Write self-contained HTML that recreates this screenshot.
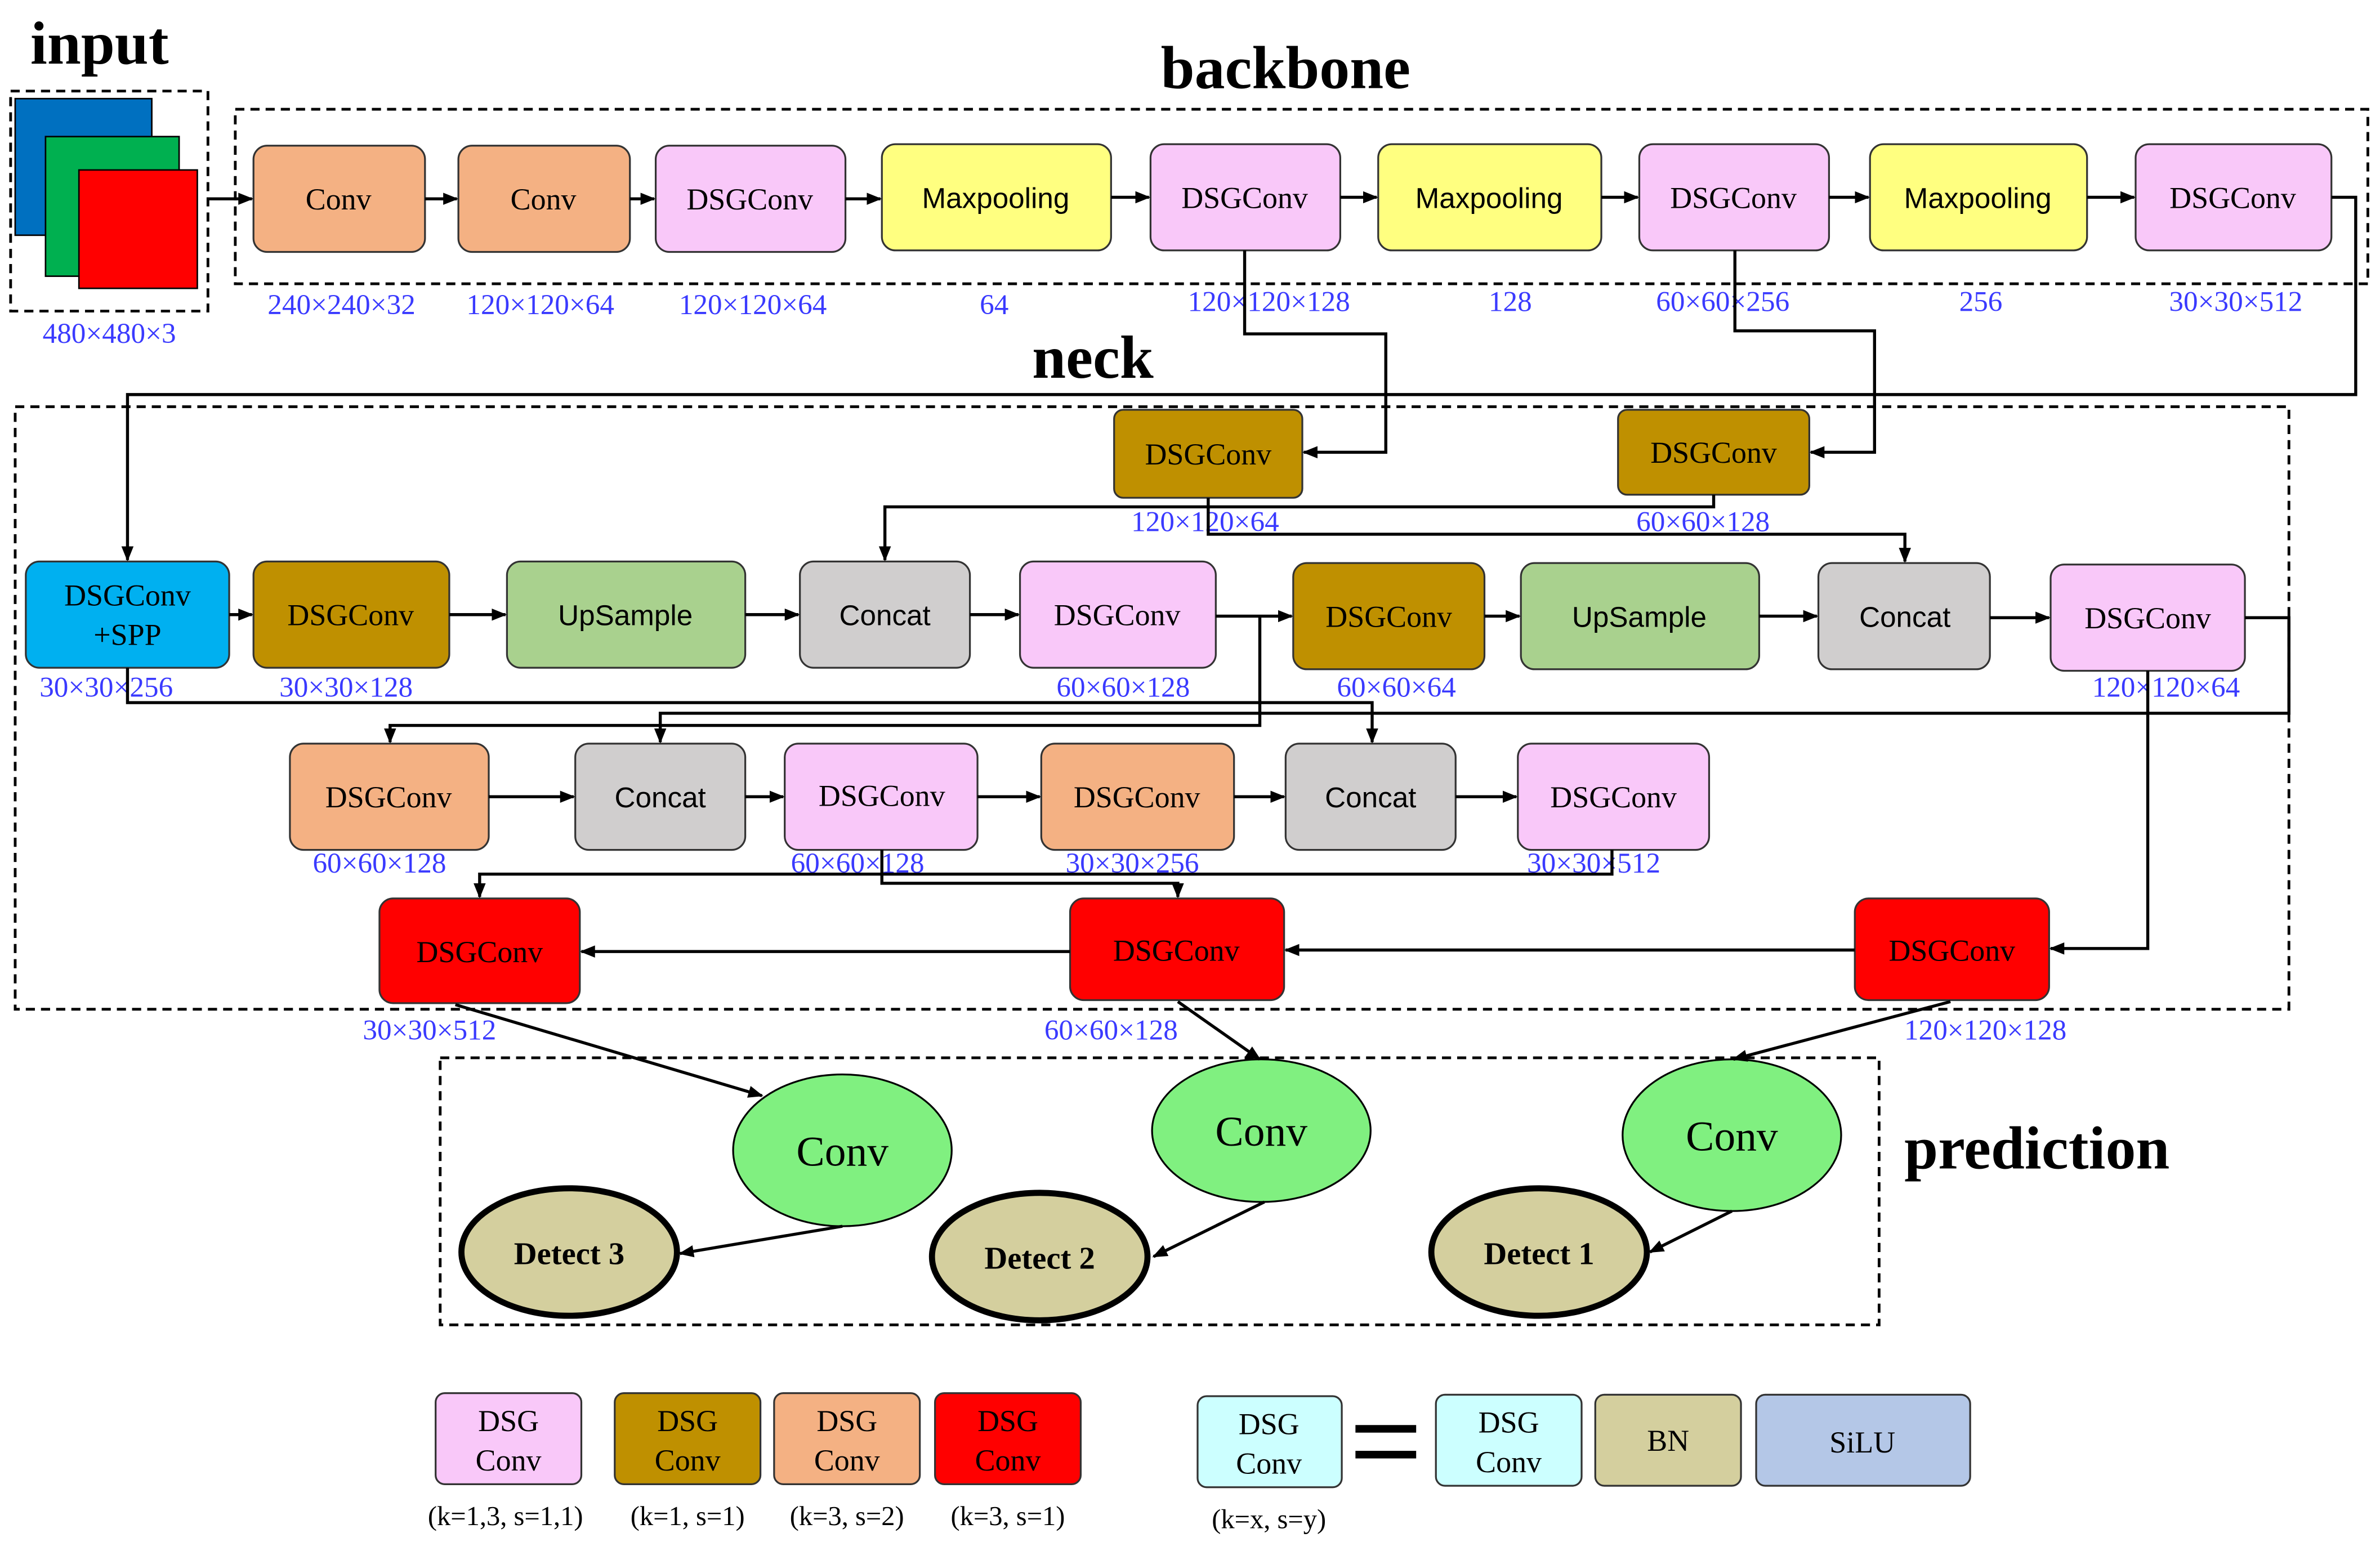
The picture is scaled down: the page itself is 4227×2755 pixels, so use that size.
<!DOCTYPE html>
<html><head><meta charset="utf-8"><style>
html,body{margin:0;padding:0;background:#fff;}
svg{display:block;}
.s{font-family:"Liberation Serif",serif;}
.a{font-family:"Liberation Sans",sans-serif;}
.d{font-family:"Liberation Serif",serif;fill:#3a3aff;font-size:19px;text-anchor:middle;}
.b{stroke:#333;stroke-width:1.2;}
.l{stroke:#000;stroke-width:2;fill:none;marker-end:url(#ar);}
.n{stroke:#000;stroke-width:2;fill:none;}
</style></head><body>
<svg width="4227" height="2755" viewBox="0 0 1568 1022" preserveAspectRatio="none" xmlns="http://www.w3.org/2000/svg">
<defs><marker id="ar" markerWidth="10" markerHeight="10" refX="9" refY="5" orient="auto" markerUnits="userSpaceOnUse"><path d="M0,1 L10,5 L0,9 z" fill="#000"/></marker></defs>
<rect width="1568" height="1022" fill="#fff"/>
<!-- titles -->
<text x="20" y="42" class="s" font-size="40" font-weight="bold">input</text>
<text x="847" y="58" class="s" font-size="40" font-weight="bold" text-anchor="middle">backbone</text>
<text x="720" y="249" class="s" font-size="40" font-weight="bold" text-anchor="middle">neck</text>
<text x="1342" y="770" class="s" font-size="40" font-weight="bold" text-anchor="middle">prediction</text>
<!-- dashed frames -->
<g fill="none" stroke="#000" stroke-width="1.8" stroke-dasharray="6,4">
<rect x="7" y="60" width="130" height="145"/>
<rect x="155" y="72" width="1405" height="115"/>
<rect x="10" y="268" width="1498" height="397"/>
<rect x="290" y="697" width="948" height="176"/>
</g>
<!-- input -->
<rect x="10" y="65" width="90" height="90" fill="#0070c0" stroke="#000"/>
<rect x="30" y="90" width="88" height="92" fill="#00b050" stroke="#000"/>
<rect x="52" y="112" width="78" height="78" fill="#ff0000" stroke="#000"/>
<text x="72" y="226" class="d">480×480×3</text>
<!-- backbone boxes -->
<g class="b">
<rect x="167" y="96" width="113" height="70" rx="9" fill="#f4b183"/>
<rect x="302" y="96" width="113" height="70" rx="9" fill="#f4b183"/>
<rect x="432" y="96" width="125" height="70" rx="9" fill="#f9c8f9"/>
<rect x="581" y="95" width="151" height="70" rx="9" fill="#ffff80"/>
<rect x="758" y="95" width="125" height="70" rx="9" fill="#f9c8f9"/>
<rect x="908" y="95" width="147" height="70" rx="9" fill="#ffff80"/>
<rect x="1080" y="95" width="125" height="70" rx="9" fill="#f9c8f9"/>
<rect x="1232" y="95" width="143" height="70" rx="9" fill="#ffff80"/>
<rect x="1407" y="95" width="129" height="70" rx="9" fill="#f9c8f9"/>
</g>
<g class="s" font-size="20" text-anchor="middle">
<text x="223" y="138">Conv</text><text x="358" y="138">Conv</text><text x="494" y="138">DSGConv</text>
<text x="820" y="137">DSGConv</text><text x="1142" y="137">DSGConv</text><text x="1471" y="137">DSGConv</text>
</g>
<g class="a" font-size="19" text-anchor="middle">
<text x="656" y="137">Maxpooling</text><text x="981" y="137">Maxpooling</text><text x="1303" y="137">Maxpooling</text>
</g>
<g>
<text x="225" y="207" class="d">240×240×32</text><text x="356" y="207" class="d">120×120×64</text>
<text x="496" y="207" class="d">120×120×64</text><text x="655" y="207" class="d">64</text>
<text x="836" y="205" class="d">120×120×128</text><text x="995" y="205" class="d">128</text>
<text x="1135" y="205" class="d">60×60×256</text><text x="1305" y="205" class="d">256</text>
<text x="1473" y="205" class="d">30×30×512</text>
</g>
<!-- neck boxes -->
<g class="b">
<rect x="734" y="270" width="124" height="58" rx="6" fill="#bf9000"/>
<rect x="1066" y="270" width="126" height="56" rx="6" fill="#bf9000"/>
<rect x="17" y="370" width="134" height="70" rx="9" fill="#00b0f0"/>
<rect x="167" y="370" width="129" height="70" rx="9" fill="#bf9000"/>
<rect x="334" y="370" width="157" height="70" rx="9" fill="#a9d18e"/>
<rect x="527" y="370" width="112" height="70" rx="9" fill="#d0cece"/>
<rect x="672" y="370" width="129" height="70" rx="9" fill="#f9c8f9"/>
<rect x="852" y="371" width="126" height="70" rx="9" fill="#bf9000"/>
<rect x="1002" y="371" width="157" height="70" rx="9" fill="#a9d18e"/>
<rect x="1198" y="371" width="113" height="70" rx="9" fill="#d0cece"/>
<rect x="1351" y="372" width="128" height="70" rx="9" fill="#f9c8f9"/>
<rect x="191" y="490" width="131" height="70" rx="9" fill="#f4b183"/>
<rect x="379" y="490" width="112" height="70" rx="9" fill="#d0cece"/>
<rect x="517" y="490" width="127" height="70" rx="9" fill="#f9c8f9"/>
<rect x="686" y="490" width="127" height="70" rx="9" fill="#f4b183"/>
<rect x="847" y="490" width="112" height="70" rx="9" fill="#d0cece"/>
<rect x="1000" y="490" width="126" height="70" rx="9" fill="#f9c8f9"/>
<rect x="250" y="592" width="132" height="69" rx="9" fill="#ff0000"/>
<rect x="705" y="592" width="141" height="67" rx="9" fill="#ff0000"/>
<rect x="1222" y="592" width="128" height="67" rx="9" fill="#ff0000"/>
</g>
<g class="s" font-size="20" text-anchor="middle">
<text x="796" y="306">DSGConv</text><text x="1129" y="305">DSGConv</text>
<text x="84" y="399">DSGConv</text><text x="84" y="425">+SPP</text>
<text x="231" y="412">DSGConv</text><text x="736" y="412">DSGConv</text><text x="915" y="413">DSGConv</text>
<text x="1415" y="414">DSGConv</text>
<text x="256" y="532">DSGConv</text><text x="581" y="531">DSGConv</text><text x="749" y="532">DSGConv</text>
<text x="1063" y="532">DSGConv</text>
<text x="316" y="634">DSGConv</text><text x="775" y="633">DSGConv</text><text x="1286" y="633">DSGConv</text>
</g>
<g class="a" font-size="19" text-anchor="middle">
<text x="412" y="412">UpSample</text><text x="583" y="412">Concat</text>
<text x="1080" y="413">UpSample</text><text x="1255" y="413">Concat</text>
<text x="435" y="532">Concat</text><text x="903" y="532">Concat</text>
</g>
<g>
<text x="794" y="350" class="d">120×120×64</text><text x="1122" y="350" class="d">60×60×128</text>
<text x="70" y="459" class="d">30×30×256</text><text x="228" y="459" class="d">30×30×128</text>
<text x="740" y="459" class="d">60×60×128</text><text x="920" y="459" class="d">60×60×64</text>
<text x="1427" y="459" class="d">120×120×64</text>
<text x="250" y="575" class="d">60×60×128</text><text x="565" y="575" class="d">60×60×128</text>
<text x="746" y="575" class="d">30×30×256</text><text x="1050" y="575" class="d">30×30×512</text>
<text x="283" y="685" class="d">30×30×512</text><text x="732" y="685" class="d">60×60×128</text>
<text x="1308" y="685" class="d">120×120×128</text>
</g>
<!-- prediction -->
<g stroke="#000">
<ellipse cx="555" cy="758" rx="72" ry="50" fill="#80f080" stroke-width="1.2"/>
<ellipse cx="831" cy="745" rx="72" ry="47" fill="#80f080" stroke-width="1.2"/>
<ellipse cx="1141" cy="748" rx="72" ry="50" fill="#80f080" stroke-width="1.2"/>
<ellipse cx="375" cy="825" rx="71" ry="42" fill="#d4cf9e" stroke-width="4"/>
<ellipse cx="685" cy="828" rx="71" ry="42" fill="#d4cf9e" stroke-width="4"/>
<ellipse cx="1014" cy="825" rx="71" ry="42" fill="#d4cf9e" stroke-width="4"/>
</g>
<g class="s" text-anchor="middle">
<text x="555" y="768" font-size="28">Conv</text><text x="831" y="755" font-size="28">Conv</text><text x="1141" y="758" font-size="28">Conv</text>
<text x="375" y="833" font-size="21" font-weight="bold">Detect 3</text>
<text x="685" y="836" font-size="21" font-weight="bold">Detect 2</text>
<text x="1014" y="833" font-size="21" font-weight="bold">Detect 1</text>
</g>
<!-- connectors -->
<path class="l" d="M137,131 H166"/>
<path class="l" d="M280,131 H301"/><path class="l" d="M415,131 H431"/><path class="l" d="M557,131 H580"/>
<path class="l" d="M732,130 H757"/><path class="l" d="M883,130 H907"/><path class="l" d="M1055,130 H1079"/>
<path class="l" d="M1205,130 H1231"/><path class="l" d="M1375,130 H1406"/>
<path class="l" d="M1536,130 H1552 V260 H84 V369"/>
<path class="l" d="M820,165 V220 H913 V298 H859"/>
<path class="l" d="M1143,165 V218 H1235 V298 H1193"/>
<path class="l" d="M796,328 V352 H1255 V370"/>
<path class="l" d="M1129,326 V334 H583 V369"/>
<path class="l" d="M151,405 H166"/><path class="l" d="M296,405 H333"/><path class="l" d="M491,405 H526"/>
<path class="l" d="M639,405 H671"/><path class="l" d="M801,406 H851"/><path class="l" d="M978,406 H1001"/>
<path class="l" d="M1159,406 H1197"/><path class="l" d="M1311,407 H1350"/>
<path class="l" d="M830,406 V478 H257 V489"/>
<path class="l" d="M84,440 V463 H904 V489"/>
<path class="l" d="M1479,407 H1508 V470 H435 V489"/>
<path class="l" d="M1415,442 V625 H1351"/>
<path class="l" d="M322,525 H378"/><path class="l" d="M491,525 H516"/><path class="l" d="M644,525 H685"/>
<path class="l" d="M813,525 H846"/><path class="l" d="M959,525 H999"/>
<path class="l" d="M581,560 V582 H776 V591"/>
<path class="l" d="M1062,560 V576 H316 V591"/>
<path class="l" d="M1222,626 H847"/><path class="l" d="M705,627 H383"/>
<path class="l" d="M300,662 L502,722"/><path class="l" d="M776,660 L830,698"/><path class="l" d="M1285,660 L1142,698"/>
<path class="l" d="M555,808 L448,826"/><path class="l" d="M833,792 L760,828"/><path class="l" d="M1141,798 L1087,825"/>
<!-- legend -->
<g class="b">
<rect x="287" y="918" width="96" height="60" rx="6" fill="#f9c8f9"/>
<rect x="405" y="918" width="96" height="60" rx="6" fill="#bf9000"/>
<rect x="510" y="918" width="96" height="60" rx="6" fill="#f4b183"/>
<rect x="616" y="918" width="96" height="60" rx="6" fill="#ff0000"/>
<rect x="789" y="920" width="95" height="60" rx="6" fill="#ccffff"/>
<rect x="946" y="919" width="96" height="60" rx="6" fill="#ccffff"/>
<rect x="1051" y="919" width="96" height="60" rx="6" fill="#d4cf9e"/>
<rect x="1157" y="919" width="141" height="60" rx="6" fill="#b4c7e7"/>
</g>
<rect x="893" y="939" width="40" height="5" fill="#000"/><rect x="893" y="956" width="40" height="5" fill="#000"/>
<g class="s" font-size="20" text-anchor="middle">
<text x="335" y="943">DSG</text><text x="335" y="969">Conv</text>
<text x="453" y="943">DSG</text><text x="453" y="969">Conv</text>
<text x="558" y="943">DSG</text><text x="558" y="969">Conv</text>
<text x="664" y="943">DSG</text><text x="664" y="969">Conv</text>
<text x="836" y="945">DSG</text><text x="836" y="971">Conv</text>
<text x="994" y="944">DSG</text><text x="994" y="970">Conv</text>
<text x="1099" y="956">BN</text><text x="1227" y="957">SiLU</text>
</g>
<g class="s" font-size="18" text-anchor="middle">
<text x="333" y="1005">(k=1,3, s=1,1)</text><text x="453" y="1005">(k=1, s=1)</text>
<text x="558" y="1005">(k=3, s=2)</text><text x="664" y="1005">(k=3, s=1)</text>
<text x="836" y="1007">(k=x, s=y)</text>
</g>
</svg>
</body></html>
